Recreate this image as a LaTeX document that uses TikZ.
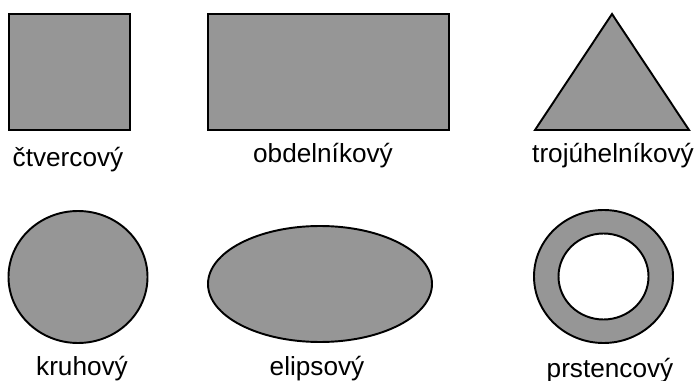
\documentclass[tikz,border=0pt]{standalone}
\usepackage{fontspec}
\setmainfont{Liberation Sans}
\definecolor{plochagray}{RGB}{150,150,150}
\begin{document}
\begin{tikzpicture}[x=0.02cm,y=-0.02cm,
	plocha/.style={draw=black,fill=plochagray,line width=1.1pt},
	popis/.style={anchor=base,inner sep=0pt,font=\fontsize{14.9}{17}\selectfont}]
	\useasboundingbox (0,0) rectangle (699,381);

	% horni rada
	\draw[plocha] (9,14) rectangle (130,130);
	\draw[plocha] (208,14) rectangle (449,130);
	\draw[plocha] (612,14) -- (689,130) -- (535,130) -- cycle;

	\node 	(ctv)		at	(68,167) 	[popis]{čtvercový};
	\node 	(obd)		at	(323,163) 	[popis]{obdelníkový};
	\node 	(troj)		at	(613,163) 	[popis]{trojúhelníkový};

	% dolni rada
	\draw[plocha] (78,277) ellipse [x radius=69.5,y radius=66];
	\draw[plocha] (320,284) ellipse [x radius=112,y radius=58];
	\draw[plocha,even odd rule] (603.5,276.5) ellipse [x radius=69.5,y radius=66.5]
		(603.5,276.5) ellipse [x radius=45,y radius=43];

	\node 	(kruh)		at	(82,375) 	[popis]{kruhový};
	\node 	(elip)		at	(317,375) 	[popis]{elipsový};
	\node 	(prst)		at	(610,377) 	[popis]{prstencový};

\end{tikzpicture}
\end{document}
